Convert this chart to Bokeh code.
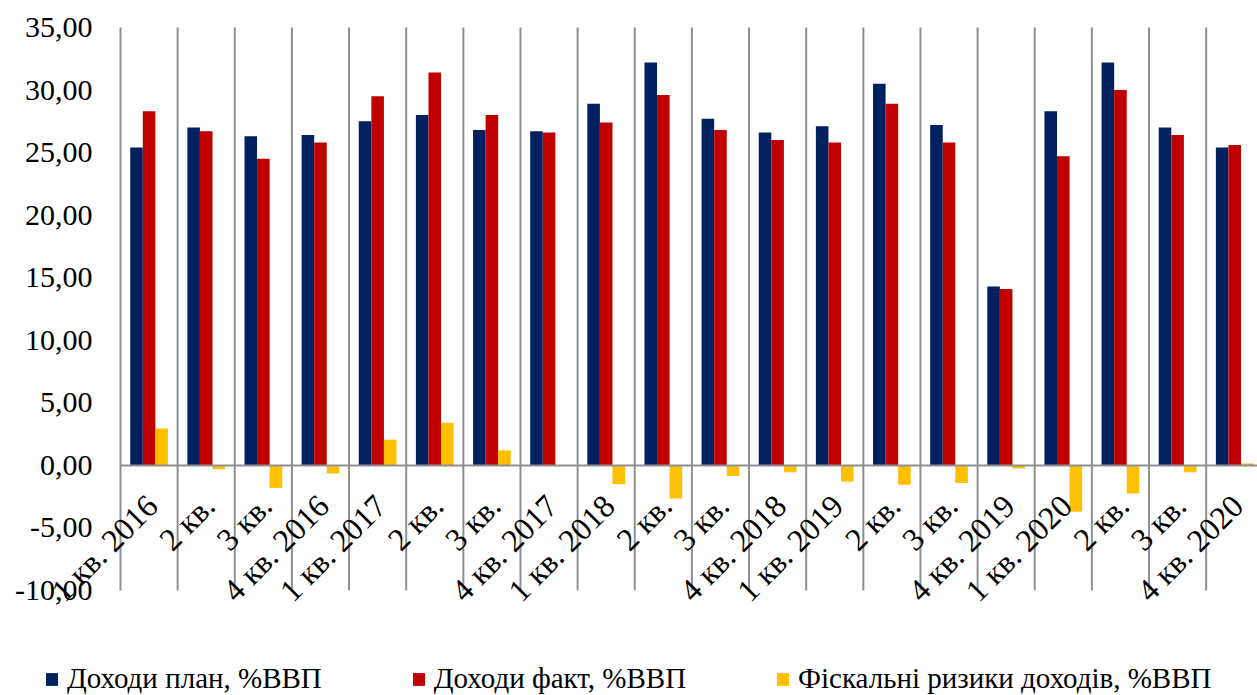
import math
from bokeh.plotting import figure
from bokeh.models import Range1d, Legend, LegendItem, ColumnDataSource
from bokeh.core.properties import value
from bokeh.embed import file_html
from bokeh.resources import INLINE

categories = ["1 кв. 2016", "2 кв.", "3 кв.", "4 кв. 2016",
              "1 кв. 2017", "2 кв.", "3 кв.", "4 кв. 2017",
              "1 кв. 2018", "2 кв.", "3 кв.", "4 кв. 2018",
              "1 кв. 2019", "2 кв.", "3 кв.", "4 кв. 2019",
              "1 кв. 2020", "2 кв.", "3 кв.", "4 кв. 2020"]
plan = [25.4, 27.0, 26.3, 26.4, 27.5, 28.0, 26.8, 26.7, 28.9, 32.2,
        27.7, 26.6, 27.1, 30.5, 27.2, 14.3, 28.3, 32.2, 27.0, 25.4]
fact = [28.3, 26.7, 24.5, 25.8, 29.5, 31.4, 28.0, 26.6, 27.4, 29.6,
        26.8, 26.0, 25.8, 28.9, 25.8, 14.1, 24.7, 30.0, 26.4, 25.6]
risk = [2.95, -0.3, -1.8, -0.65, 2.05, 3.4, 1.2, -0.05, -1.5, -2.65,
        -0.85, -0.55, -1.3, -1.55, -1.4, -0.25, -3.7, -2.25, -0.55, 0.15]
series_names = ["Доходи план, %ВВП", "Доходи факт, %ВВП",
                "Фіскальні ризики доходів, %ВВП"]
y_ticks = [-10, -5, 0, 5, 10, 15, 20, 25, 30, 35]
y_min, y_max = -10, 35

colors = ["#002060", "#C00000", "#FFC000"]
FONT = "Liberation Serif"
GRAY = "#8f8f8f"

W, H = 1257, 695
PX_X = 57.14          # pixels per category
PX_Y = 12.511         # pixels per value unit
LEFT, TOP = 120, 27   # plot area origin in pixels
x0 = -LEFT / PX_X
x1 = x0 + W / PX_X
y1 = y_max + TOP / PX_Y
y0 = y1 - H / PX_Y

n = len(categories)
centers = [i + 0.5 for i in range(n)]

p = figure(width=W, height=H, output_backend="svg", toolbar_location=None,
           x_range=Range1d(x0, x1), y_range=Range1d(y0, y1),
           x_axis_location=None, y_axis_location=None, min_border=0)
p.outline_line_color = None
p.grid.visible = False

# vertical category separators
bounds = list(range(n + 1))
p.segment(x0=bounds, y0=[y_min] * len(bounds), x1=bounds, y1=[y_max] * len(bounds),
          line_color=GRAY, line_width=2)

offsets = [-0.22, 0.0, 0.22]
renderers = []
for vals, off, col in zip([plan, fact, risk], offsets, colors):
    src = ColumnDataSource(dict(x=[c + off for c in centers], top=vals))
    r = p.vbar(x="x", top="top", bottom=0, width=0.22, source=src,
               fill_color=col, line_color=None)
    renderers.append(r)

# zero axis line
p.segment(x0=[0], y0=[0], x1=[n], y1=[0], line_color=GRAY, line_width=2)

# y tick labels
ylab = ColumnDataSource(dict(x=[-28 / PX_X] * len(y_ticks), y=y_ticks,
                             text=[f"{t:.2f}".replace(".", ",") for t in y_ticks]))
p.text(x="x", y="y", text="text", source=ylab, text_align="right",
       text_baseline="middle", text_font=value(FONT), text_font_size="30px",
       text_color="black")

# category labels, rotated
lab_src = ColumnDataSource(dict(x=[c + 0.05 for c in centers],
                                y=[-2.8] * n, text=categories))
p.text(x="x", y="y", text="text", source=lab_src, angle=math.pi / 4,
       text_align="right", text_baseline="middle",
       text_font=value(FONT), text_font_size="32px", text_color="black")

legend = Legend(items=[LegendItem(label=nm, renderers=[r])
                       for nm, r in zip(series_names, renderers)],
                orientation="horizontal", location=(44, 0),
                border_line_color=None, background_fill_alpha=0,
                padding=0, margin=0, spacing=89, label_standoff=8,
                glyph_width=15, glyph_height=16,
                label_text_font=FONT, label_text_font_size="29px",
                label_text_color="black")
p.add_layout(legend, "center")

open("out.html", "w").write(file_html(p, INLINE))
